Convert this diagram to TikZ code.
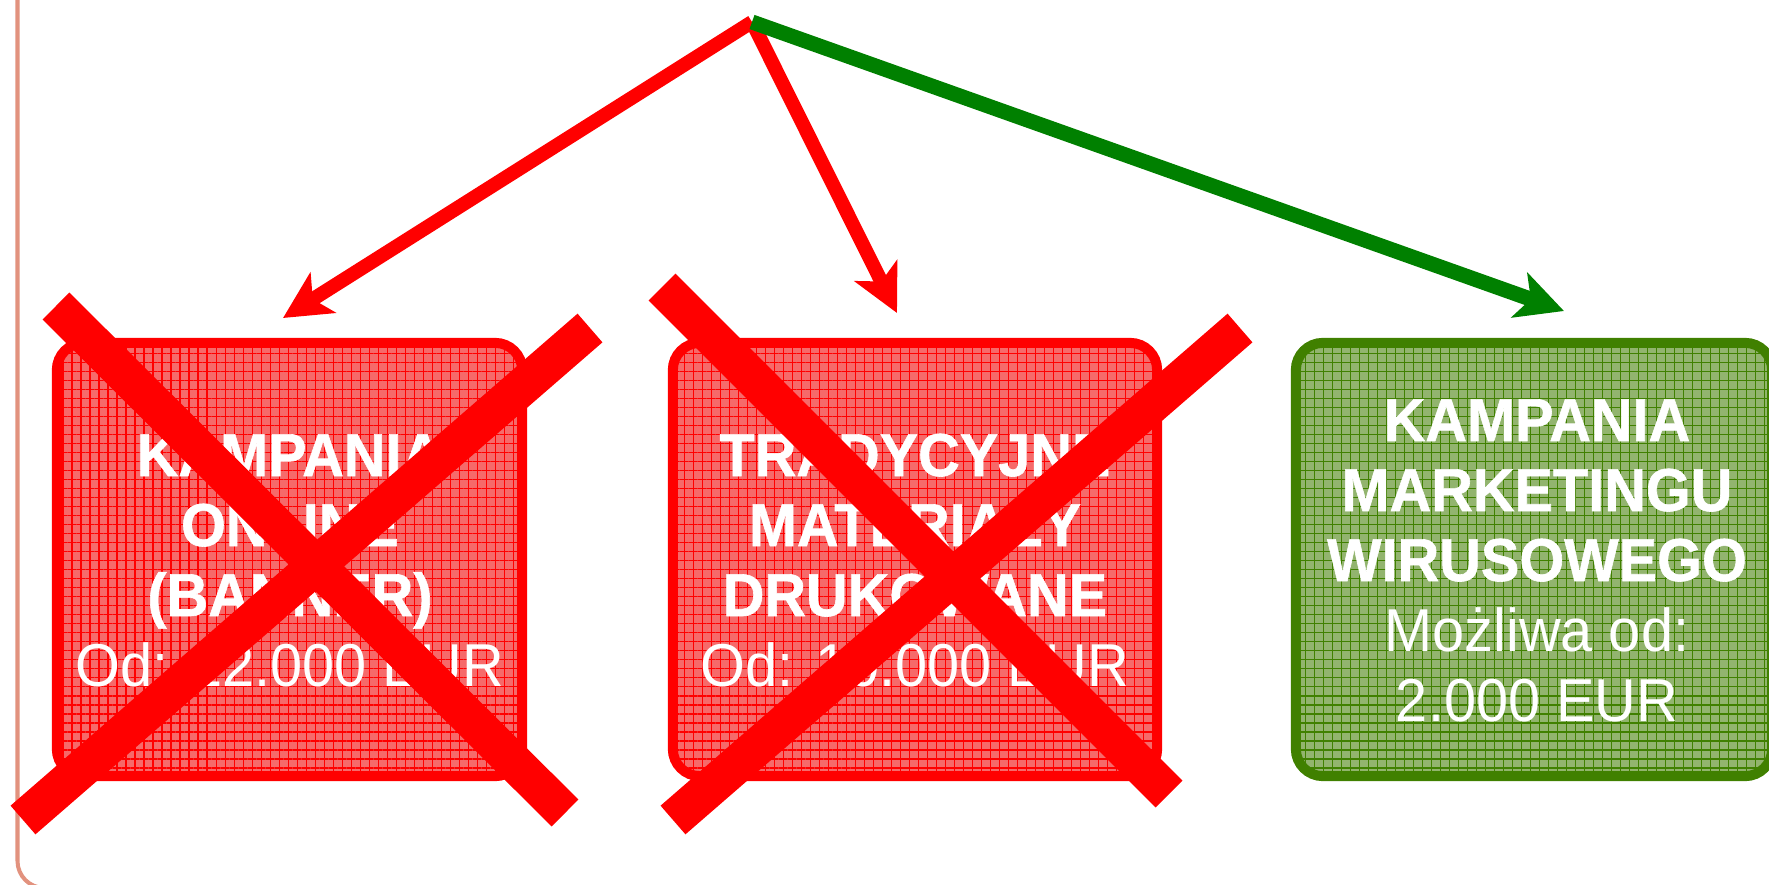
\documentclass[tikz,border=0pt]{standalone}
\usepackage{fontspec}
\setmainfont{Liberation Sans}
\newfontfamily\heavy[FakeBold=1]{Liberation Sans Bold}
\usetikzlibrary{arrows.meta,patterns.meta}
\definecolor{xred}{RGB}{255,0,0}
\definecolor{redfill}{RGB}{246,106,106}
\definecolor{grnfill}{RGB}{146,180,110}
\definecolor{grnline}{RGB}{64,128,0}
\definecolor{grnarrow}{RGB}{0,128,0}
\definecolor{framecol}{RGB}{226,146,126}
\newcommand{\stretchtext}[1]{\scalebox{1}[1.05]{#1}}
\begin{document}
\begin{tikzpicture}[x=0.01cm,y=-0.01cm,
  box/.style={rectangle, rounded corners=0.27cm, line width=2.85pt, minimum height=4.33cm, inner sep=0pt},
  redbox/.style={box, draw=xred, fill=redfill,
    postaction={pattern={Hatch[angle=0, distance=2.56pt, line width=0.32pt]}, pattern color=xred}},
  grnbox/.style={box, draw=grnline, fill=grnfill,
    postaction={pattern={Hatch[angle=0, distance=2.56pt, line width=0.32pt]}, pattern color=grnline}},
  lab/.style={text=white, inner sep=0pt, anchor=base, font=\fontsize{16.4}{19.9}\selectfont},
  blab/.style={lab, font=\fontsize{16.4}{19.9}\selectfont\heavy},
  conn/.style={line width=3.98pt, line cap=butt, -{Stealth[length=13.4pt, width=13.4pt, inset=3.4pt]}},
  cross/.style={xred, line width=10.8pt, line cap=butt},
  framestyle/.style={framecol, line width=1.14pt, rounded corners=0.27cm},
]
\useasboundingbox (0,0) rectangle (1769,885);
% frame
\draw[framestyle] (17.5,-30) -- (17.5,888) -- (1900,888);

% boxes
\node[redbox, minimum width=4.65cm] (b1) at (289.5,559.5) {};
\node[redbox, minimum width=4.84cm] (b2) at (915,559.5) {};
\node[grnbox, minimum width=4.76cm] (b3) at (1534,559.5) {};

% connectors
\coordinate (top) at (752,22);
\coordinate (t1) at (283,318);
\coordinate (t2) at (897,313);
\coordinate (t3) at (1564,311);
\draw[conn, xred] (top) -- (t1);
\draw[conn, xred] (top) -- (t2);
\draw[conn, grnarrow, line width=4.27pt] (top) -- (t3);

% texts left
\node[blab] (l1) at (290,476) {\stretchtext{KAMPANIA}};
\node[blab] (l2) at (290,546) {\stretchtext{ONLINE}};
\node[blab] (l3) at (290,616) {\stretchtext{(BANNER)}};
\node[lab]  (l4) at (290,686) {\stretchtext{Od: 12.000 EUR}};
% texts middle
\node[blab] (m1) at (915,476) {\stretchtext{TRADYCYJNE}};
\node[blab] (m2) at (915,546) {\stretchtext{MATERIAŁY}};
\node[blab] (m3) at (915,616) {\stretchtext{DRUKOWANE}};
\node[lab]  (m4) at (915,686) {\stretchtext{Od: 10.000 EUR}};
% texts right
\node[blab] (r1) at (1537,441) {\stretchtext{KAMPANIA}};
\node[blab] (r2) at (1537,511) {\stretchtext{MARKETINGU}};
\node[blab] (r3) at (1537,581) {\stretchtext{WIRUSOWEGO}};
\node[lab]  (r4) at (1537,651) {\stretchtext{Możliwa od:}};
\node[lab]  (r5) at (1537,721) {\stretchtext{2.000 EUR}};

% crosses
\draw[cross] (56,306) -- (565,813);
\draw[cross] (23,820) -- (590,328);
\draw[cross] (662,287) -- (1169,794);
\draw[cross] (673,820) -- (1240,328);
\end{tikzpicture}
\end{document}
